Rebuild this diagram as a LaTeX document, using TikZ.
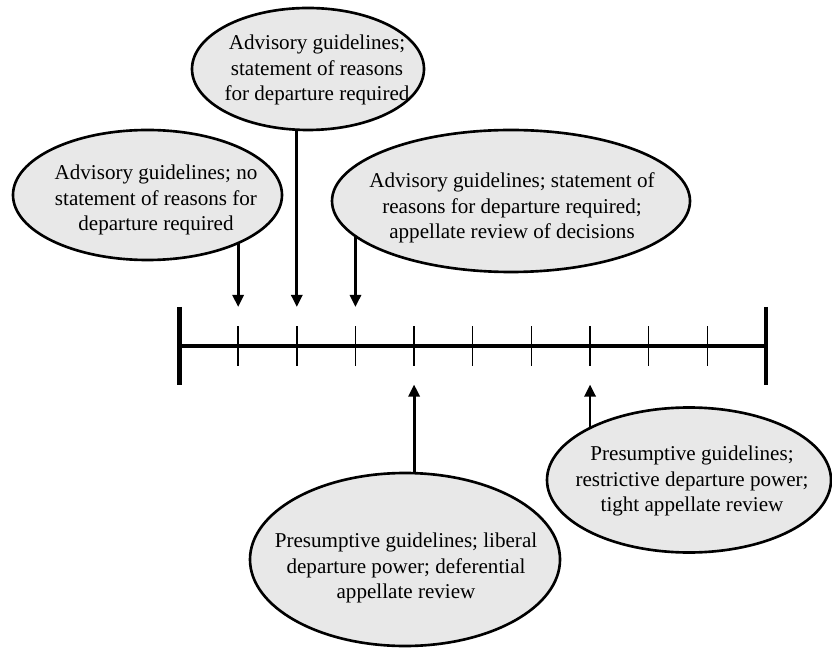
\documentclass[tikz,border=0pt]{standalone}
\usepackage{fontspec}
\setmainfont{Liberation Serif}
\usetikzlibrary{arrows.meta,backgrounds}
\tikzset{
  bubble/.style={draw=black,line width=1.5pt,fill=gray!18},
  txt/.style={align=center,inner sep=0pt,font=\fontsize{12}{14.5}\selectfont},
  arr/.style={line width=1.6pt,-{Triangle[length=0.24cm,width=0.22cm]}},
  tickmark/.style={line width=0.8pt},
}
\begin{document}
\begin{tikzpicture}
\useasboundingbox (0,0) rectangle (16.64,12.96);
\coordinate (L) at (3.59,6.04);
\coordinate (R) at (15.32,6.04);
\draw[line width=2.3pt] (L) -- (R);
\draw[line width=2.6pt] (L) ++(0,0.78) -- ++(0,-1.56);
\draw[line width=2.6pt] (R) ++(0,0.78) -- ++(0,-1.56);
\foreach \i in {1,...,9} {
  \coordinate (t\i) at (3.59+1.173*\i,6.04);
  \draw[tickmark] (t\i) ++(0,0.39) -- ++(0,-0.78);
  \path (t\i) ++(0,0.78) coordinate (top\i) ++(0,-1.55) coordinate (bot\i);
}
    \node[txt] (adv1) at (3.12,8.96) {Advisory guidelines; no\\statement of reasons for\\departure required};
    \node[txt] (adv2) at (6.34,11.56) {Advisory guidelines;\\statement of reasons\\for departure required};
    \node[txt] (adv3) at (10.24,8.80) {Advisory guidelines; statement of\\reasons for departure required;\\appellate review of decisions};
    \node[txt] (pre1) at (8.12,1.60) {Presumptive guidelines; liberal\\departure power; deferential\\appellate review};
    \node[txt] (pre2) at (13.84,3.34) {Presumptive guidelines;\\restrictive departure power;\\tight appellate review};
\begin{scope}[on background layer]
    \draw[arr] (adv1 -| t1) -- (top1);
    \draw[arr] (adv2 -| t2) -- (top2);
    \draw[arr] (adv3 -| t3) -- (top3);
    \draw[arr] (pre1 -| t4) -- (bot4);
    \draw[arr] (pre2 -| t7) -- (bot7);
    \draw[bubble] (2.95,9.06) ellipse (2.69 and 1.30);
    \draw[bubble] (6.16,11.58) ellipse (2.32 and 1.22);
    \draw[bubble] (10.22,8.94) ellipse (3.58 and 1.42);
    \draw[bubble] (8.10,1.77) ellipse (3.10 and 1.73);
    \draw[bubble] (13.78,3.36) ellipse (2.84 and 1.45);
\end{scope}
\end{tikzpicture}
\end{document}
